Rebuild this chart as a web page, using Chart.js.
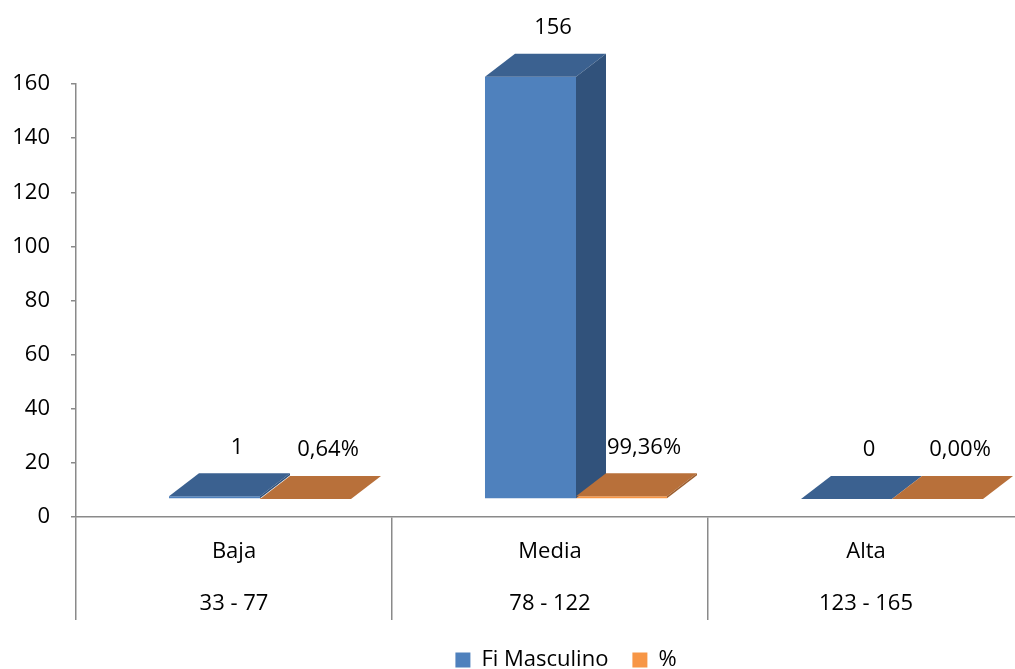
<!DOCTYPE html>
<html><head><meta charset="utf-8">
<script src="https://cdn.jsdelivr.net/npm/chart.js@4/dist/chart.umd.min.js"></script>
<style>html,body{margin:0;padding:0;overflow:hidden;background:#fff;width:1015px;height:669px}canvas{display:block}</style>
</head><body><canvas id="c" width="1040" height="681"></canvas>
<script>
// ---- data ----
const categories = [['Baja', '33 - 77'], ['Media', '78 - 122'], ['Alta', '123 - 165']];
const seriesNames = ['Fi Masculino', '%'];
const fiMasculino = [1, 156, 0];
const porcentaje = [0.0064, 0.9936, 0];
const yMin = 0, yMax = 160, yStep = 20;

// ---- style ----
const FONT = {family: '"Open Sans", "Noto Sans", sans-serif', size: 22};
const AXIS_COLOR = '#8a8a8a';
const frontColors = ['#4F81BD', '#F79646'];
const faceColors = [{top: '#3B6190', side: '#31527B'}, {top: '#B8703A', side: '#9C5E2F'}];
const DEPTH = {dx: 30, dy: 23};
const SHIFT = {x: 26, y: -18};

const fmtPct = v => (v * 100).toFixed(2).replace('.', ',') + '%';
const labelFormatters = [v => String(v), fmtPct];

const bar3d = {
  id: 'bar3d',
  beforeDatasetsDraw(chart) {
    chart.ctx.save();
    chart.ctx.translate(SHIFT.x, SHIFT.y);
  },
  afterDatasetsDraw(chart) {
    const ctx = chart.ctx;
    chart.data.datasets.forEach((ds, i) => {
      const meta = chart.getDatasetMeta(i);
      meta.data.forEach(bar => {
        const {x, y, base, width} = bar.getProps(['x', 'y', 'base', 'width'], true);
        const l = x - width / 2, r = x + width / 2;
        ctx.fillStyle = faceColors[i].top;
        ctx.beginPath();
        ctx.moveTo(l, y); ctx.lineTo(l + DEPTH.dx, y - DEPTH.dy);
        ctx.lineTo(r + DEPTH.dx, y - DEPTH.dy); ctx.lineTo(r, y);
        ctx.closePath(); ctx.fill();
        if (base - y > 0.5) {
          ctx.fillStyle = faceColors[i].side;
          ctx.beginPath();
          ctx.moveTo(r, y); ctx.lineTo(r + DEPTH.dx, y - DEPTH.dy);
          ctx.lineTo(r + DEPTH.dx, base - DEPTH.dy); ctx.lineTo(r, base);
          ctx.closePath(); ctx.fill();
        }
      });
    });
    ctx.fillStyle = '#000';
    ctx.font = FONT.size + 'px ' + FONT.family;
    ctx.textAlign = 'center';
    ctx.textBaseline = 'middle';
    chart.data.datasets.forEach((ds, i) => {
      const meta = chart.getDatasetMeta(i);
      meta.data.forEach((bar, j) => {
        const {x, y} = bar.getProps(['x', 'y'], true);
        ctx.fillText(labelFormatters[i](ds.data[j]), x + 22.5, y - 49);
      });
    });
    ctx.restore();
  },
  afterLayout(chart) {
    const lg = chart.legend;
    if (lg) { lg.left += 54; lg.right += 54; }
  }
};

new Chart(document.getElementById('c'), {
  type: 'bar',
  data: {
    labels: categories,
    datasets: [
      {label: seriesNames[0], data: fiMasculino, backgroundColor: frontColors[0], borderWidth: 0},
      {label: seriesNames[1], data: porcentaje, backgroundColor: frontColors[1], borderWidth: 0}
    ]
  },
  options: {
    responsive: false,
    animation: false,
    devicePixelRatio: 1,
    categoryPercentage: 0.576,
    barPercentage: 1,
    layout: {padding: {left: 0, right: 16, top: 84, bottom: 0}},
    plugins: {
      legend: {
        position: 'bottom',
        labels: {boxWidth: 15, boxHeight: 15, padding: 24, color: '#000', font: FONT}
      },
      tooltip: {enabled: false}
    },
    scales: {
      x: {
        grid: {display: true, drawOnChartArea: false, drawTicks: true, tickLength: 103, offset: true, color: AXIS_COLOR, lineWidth: 1.5},
        border: {display: true, color: AXIS_COLOR, width: 1.5},
        ticks: {padding: -95, color: '#000', font: {family: FONT.family, size: 22, lineHeight: 2.4}, maxRotation: 0, autoSkip: false},
        afterFit(s) { s.height = 108; }
      },
      y: {
        min: yMin, max: yMax,
        ticks: {stepSize: yStep, padding: 21, color: '#000', font: FONT},
        grid: {display: true, drawOnChartArea: false, drawTicks: true, tickLength: 5, color: AXIS_COLOR, lineWidth: 1.5},
        border: {display: true, color: AXIS_COLOR, width: 1.5},
        afterFit(s) { s.width = 76; }
      }
    }
  },
  plugins: [bar3d]
});
</script></body></html>
